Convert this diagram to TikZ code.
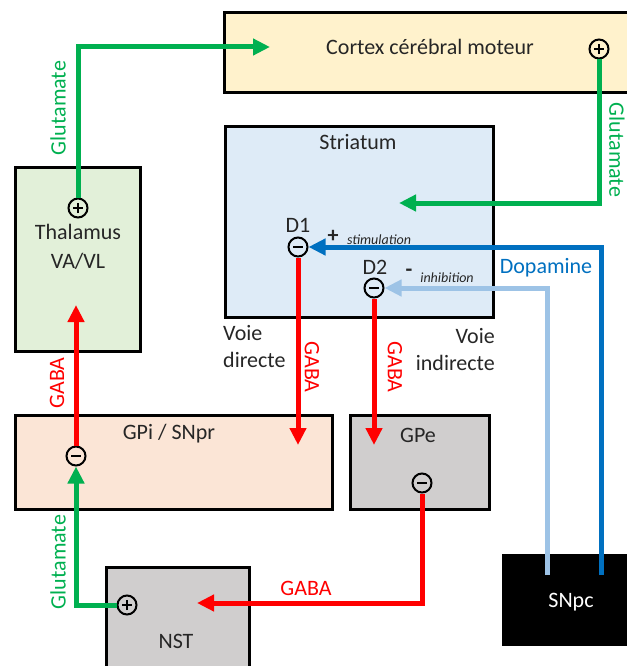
\documentclass[tikz,border=0pt]{standalone}
\usepackage{fontspec}
\setmainfont{Carlito}
\usetikzlibrary{arrows.meta}
\definecolor{cgreen}{HTML}{00B050}
\definecolor{cred}{HTML}{FF0000}
\definecolor{cblue}{HTML}{0070C0}
\definecolor{clblue}{HTML}{9DC3E6}
\definecolor{fcortex}{HTML}{FFF2CC}
\definecolor{fstri}{HTML}{DEEBF7}
\definecolor{fthal}{HTML}{E2F0D9}
\definecolor{fgpi}{HTML}{FBE5D6}
\definecolor{fgrey}{HTML}{D0CECE}
\definecolor{ctext}{HTML}{262626}
\begin{document}
\begin{tikzpicture}[x=1pt,y=-1pt,
  box/.style={draw=black, line width=3pt, anchor=north west, inner sep=0},
  lbl/.style={font=\fontsize{22}{27}\selectfont, inner sep=0, text=ctext},
  sm/.style={font=\fontsize{14}{16}\selectfont\itshape, inner sep=0, text=ctext},
  sgn/.style={circle, draw=black, line width=2pt, minimum size=19pt, inner sep=0},
  plussgn/.style={sgn, path picture={
     \draw[line width=2pt] ([xshift=-5pt]path picture bounding box.center) -- ([xshift=5pt]path picture bounding box.center)
       ([yshift=-5pt]path picture bounding box.center) -- ([yshift=5pt]path picture bounding box.center);}},
  minussgn/.style={sgn, path picture={
     \draw[line width=2.4pt] ([xshift=-5pt]path picture bounding box.center) -- ([xshift=5pt]path picture bounding box.center);}},
  conn/.style={line width=5pt, -{Triangle[length=17pt,width=16pt]}},
  ]
\useasboundingbox (0,0) rectangle (626,666);
% boxes
\node[box, fill=fcortex, minimum width=420pt, minimum height=80pt] (cortex) at (223,11) {};
\node[box, fill=fstri, minimum width=268pt, minimum height=191pt] (stri) at (224,125) {};
\node[box, fill=fthal, minimum width=125pt, minimum height=184pt] (thal) at (14,166) {};
\node[box, fill=fgpi, minimum width=317pt, minimum height=94pt] (gpi) at (14,414) {};
\node[box, fill=fgrey, minimum width=139pt, minimum height=94pt] (gpe) at (349,414) {};
\node[box, fill=fgrey, minimum width=143pt, minimum height=115pt] (nst) at (105,566) {};
\node[anchor=north west, fill=black, minimum width=130pt, minimum height=92pt, inner sep=0] (snpc) at (502,554) {};
% box texts
\node[lbl] (tcortex) at (430,47) {Cortex cérébral moteur};
\node[lbl] (tstri) at (358,142) {Striatum};
\node[lbl] (tthal) at (78,232) {Thalamus};
\node[lbl] (tvavl) at (78,261) {VA/VL};
\node[lbl] (tgpi) at (169,434) {GPi / SNpr};
\node[lbl] (tgpe) at (418,435) {GPe};
\node[lbl] (tnst) at (176,641) {NST};
\node[lbl, text=white] (tsnpc) at (571,602) {SNpc};
\node[lbl] (td1) at (298,225) {D1};
\node[lbl] (td2) at (375,267) {D2};
\node[lbl, anchor=west] (vd1) at (223,333) {Voie};
\node[lbl, anchor=west] (vd2) at (223,360) {directe};
\node[lbl, anchor=east] (vi1) at (495,336) {Voie};
\node[lbl, anchor=east] (vi2) at (495,363) {indirecte};
% signs
\node[plussgn] (cxp) at (599,49) {};
\node[plussgn] (thp) at (78,208) {};
\node[minussgn] (d1m) at (298,247) {};
\node[minussgn] (d2m) at (374,288) {};
\node[minussgn] (gpim) at (76,456) {};
\node[minussgn] (gpem) at (422,483) {};
\node[plussgn] (nstp) at (127,605) {};
% free ends
\coordinate (cxin) at (270,47);
\coordinate (stin) at (399,203);
\coordinate (sn1) at (601,575);
\coordinate (sn2) at (547,575);
\coordinate (gpiin) at (298,445);
\coordinate (gpein) at (374,445);
\coordinate (thin) at (76,305);
\coordinate (nstin) at (197,603);
% connectors
\draw[conn, cgreen] (thp.north) |- (cxin);
\draw[conn, cgreen] (cxp.south) |- (stin);
\draw[conn, clblue] (sn2) |- (d2m.east);
\draw[conn, cblue] (sn1) |- (d1m.east);
\draw[conn, cred] (d1m.south) -- (gpiin);
\draw[conn, cred] (d2m.south) -- (gpein);
\draw[conn, cred] (gpim.north) -- (thin);
\draw[conn, cgreen] (nstp.west) -| (gpim.south);
\draw[conn, cred] (gpem.south) |- (nstin);
% connector labels
\node[lbl, text=cgreen, rotate=90] (lg1) at (58,108) {Glutamate};
\node[lbl, text=cgreen, rotate=-90] (lg2) at (617,150) {Glutamate};
\node[lbl, text=cgreen, rotate=90] (lg3) at (58,562) {Glutamate};
\node[lbl, text=cred, rotate=90] (lr1) at (57,383) {GABA};
\node[lbl, text=cred, rotate=-90] (lr2) at (312,367) {GABA};
\node[lbl, text=cred, rotate=-90] (lr3) at (395,367) {GABA};
\node[lbl, text=cred] (lr4) at (306,588) {GABA};
\node[lbl, text=cblue] (ldop) at (546,268) {Dopamine};
\node[lbl, font=\fontsize{22}{27}\selectfont\bfseries] (lplus) at (333,236) {+};
\node[sm] (lstim) at (379,240) {stimulation};
\node[lbl, font=\fontsize{22}{27}\selectfont\bfseries] (lminus) at (409,273) {-};
\node[sm] (linh) at (447,278) {inhibition};
\end{tikzpicture}
\end{document}
